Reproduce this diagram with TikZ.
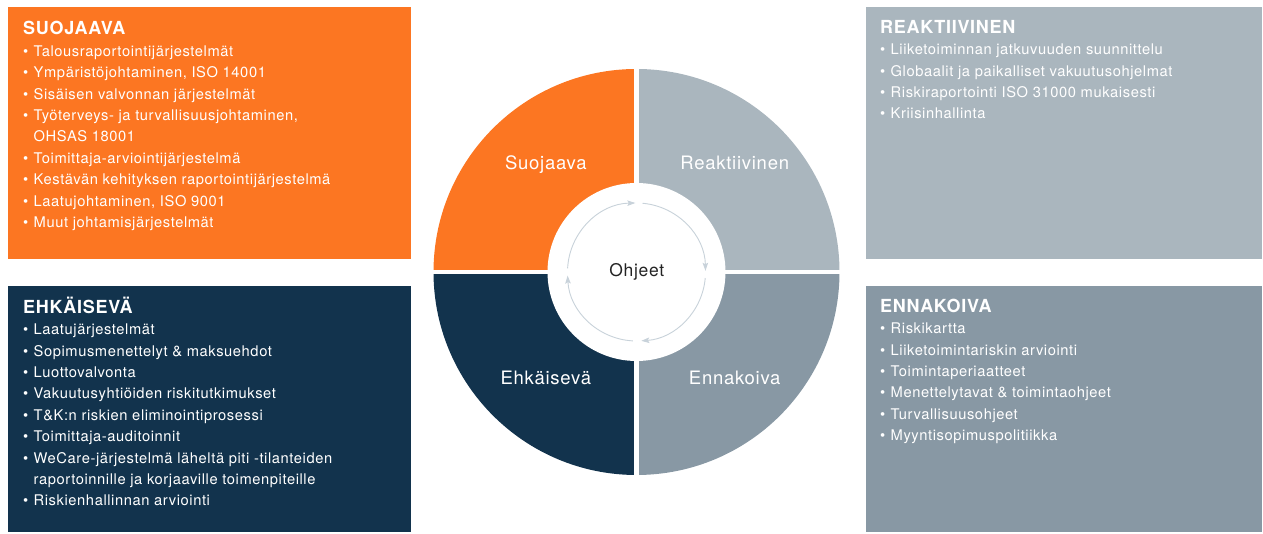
\documentclass[tikz,border=0pt]{standalone}
\usepackage{fontspec}
\setmainfont{TeX Gyre Heros}[LetterSpace=4]
\usetikzlibrary{arrows.meta}

\definecolor{laranja}{RGB}{252,118,34}
\definecolor{marinho}{RGB}{18,51,77}
\definecolor{cinzaclaro}{RGB}{170,182,190}
\definecolor{cinzaazul}{RGB}{136,152,164}
\definecolor{seta}{RGB}{200,210,218}
\definecolor{escuro}{RGB}{35,35,35}

% item com marcador
\newcommand{\bul}[1]{\par\hangindent=10.5pt\hangafter=1\noindent\makebox[10.5pt][l]{\textbullet}#1}
% titulo + lista
\newcommand{\lista}[2]{\parbox[t]{380pt}{\raggedright\fontsize{14.7}{21.4}\selectfont
  {\bfseries\fontsize{18}{21.4}\selectfont #1}#2\par}}

\begin{document}
\begin{tikzpicture}[x=1pt, y=1pt, >={Stealth[length=8pt,width=5.5pt,inset=1.5pt]},
    texto/.style={anchor=base west, inner sep=0pt, text=white},
    rotulo/.style={anchor=base, inner sep=0pt, text=white, font=\fontsize{18.5}{20}\selectfont}]
  \useasboundingbox (0,0) rectangle (1263,534);

  % Caixas
  \fill[laranja] (8,275) rectangle (410.5,526.5);
  \fill[marinho] (8,1.5) rectangle (410.5,248);
  \fill[cinzaclaro] (866,275) rectangle (1261.5,526.5);
  \fill[cinzaazul] (866,1.5) rectangle (1261.5,248);

  % Textos das caixas
  \node[texto] (suoj) at (23,499) {\lista{SUOJAAVA}{%
    \bul{Talousraportointijärjestelmät}
    \bul{Ympäristöjohtaminen, ISO 14001}
    \bul{Sisäisen valvonnan järjestelmät}
    \bul{Työterveys- ja turvallisuusjohtaminen,\newline OHSAS 18001}
    \bul{Toimittaja-arviointijärjestelmä}
    \bul{Kestävän kehityksen raportointijärjestelmä}
    \bul{Laatujohtaminen, ISO 9001}
    \bul{Muut johtamisjärjestelmät}}};
  \node[texto] (ehka) at (23,220.7) {\lista{EHKÄISEVÄ}{%
    \bul{Laatujärjestelmät}
    \bul{Sopimusmenettelyt \& maksuehdot}
    \bul{Luottovalvonta}
    \bul{Vakuutusyhtiöiden riskitutkimukset}
    \bul{T\&K:n riskien eliminointiprosessi}
    \bul{Toimittaja-auditoinnit}
    \bul{WeCare-järjestelmä läheltä piti -tilanteiden\newline raportoinnille ja korjaaville toimenpiteille}
    \bul{Riskienhallinnan arviointi}}};
  \node[texto] (reak) at (880,500.7) {\lista{REAKTIIVINEN}{%
    \bul{Liiketoiminnan jatkuvuuden suunnittelu}
    \bul{Globaalit ja paikalliset vakuutusohjelmat}
    \bul{Riskiraportointi ISO 31000 mukaisesti}
    \bul{Kriisinhallinta}}};
  \node[texto] (enna) at (880,221.7) {\lista{ENNAKOIVA}{%
    \bul{Riskikartta}
    \bul{Liiketoimintariskin arviointi}
    \bul{Toimintaperiaatteet}
    \bul{Menettelytavat \& toimintaohjeet}
    \bul{Turvallisuusohjeet}
    \bul{Myyntisopimuspolitiikka}}};

  % Circulo
  \coordinate (C) at (636.5,262);
  \foreach \a/\cor in {90/laranja, 0/cinzaclaro, -90/cinzaazul, -180/marinho}
    \fill[\cor] (C) -- ++(\a+90:203) arc[start angle=\a+90, end angle=\a, radius=203] -- cycle;
  \draw[white, line width=4.3pt] (C) ++(-206,0) -- ++(412,0);
  \draw[white, line width=4.3pt] (C) ++(0,-206) -- ++(0,412);
  \fill[white] (C) circle (89);

  % Setas do ciclo
  \foreach \s/\e in {177/91, 85/1, -5/-86, -93/-177}
    \draw[seta, line width=0.9pt, ->] (C) ++(\s:69) arc[start angle=\s, end angle=\e, radius=69];

  % Rotulos
  \node[rotulo] (suojaava) at (545.8,364.7) {Suojaava};
  \node[rotulo] (reaktiivinen) at (734.7,364.7) {Reaktiivinen};
  \node[rotulo] (ehkaiseva) at (545.8,149) {Ehkäisevä};
  \node[rotulo] (ennakoiva) at (734.7,149) {Ennakoiva};
  \node[anchor=base, inner sep=0pt, text=escuro, font=\fontsize{17.5}{20}\selectfont] (ohjeet) at (636.7,257.3) {Ohjeet};
\end{tikzpicture}
\end{document}
